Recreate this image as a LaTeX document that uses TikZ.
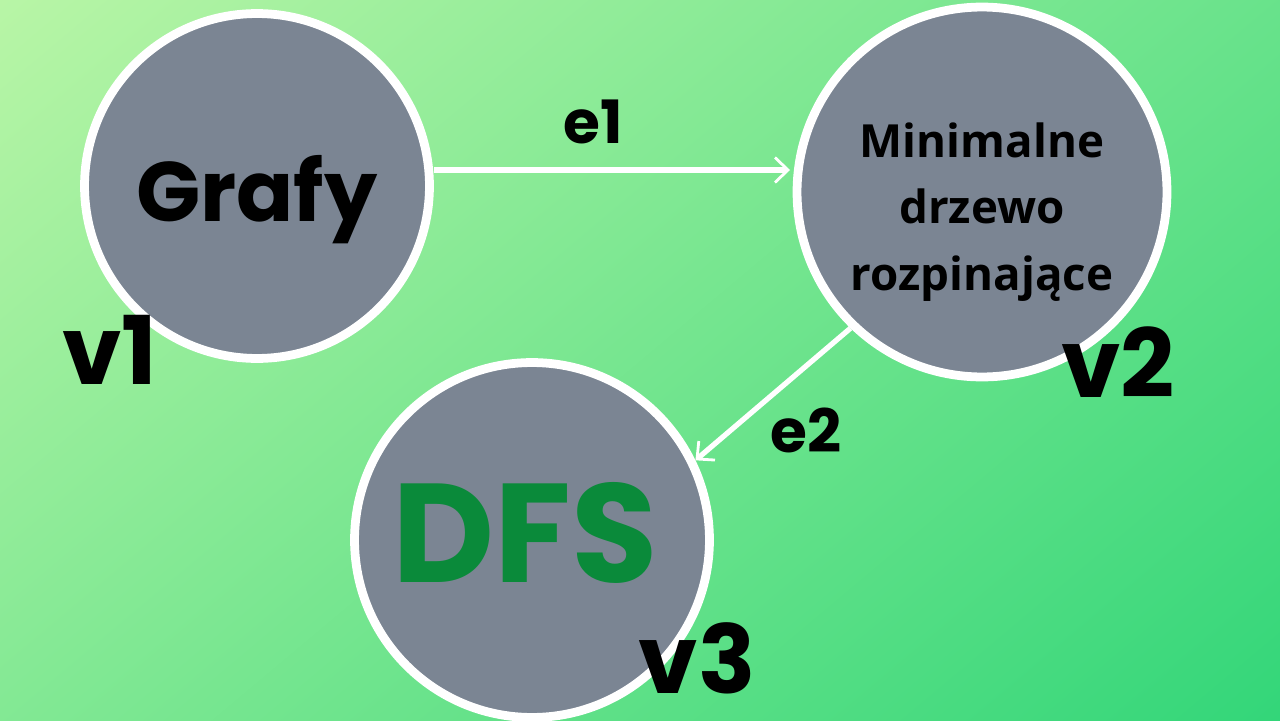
\documentclass[tikz,border=0pt]{standalone}
\usepackage{fontspec}
\setmainfont{Poppins}
\newfontfamily\treeFont{Open Sans}
\usetikzlibrary{arrows.meta}
\definecolor{bgLight}{HTML}{B8F5A6}
\definecolor{bgDark}{HTML}{33D679}
\definecolor{nodeGray}{HTML}{7B8593}
\definecolor{dfsGreen}{HTML}{0A8A3A}
\tikzset{%
  >={Straight Barb[width=5mm,length=2.6mm,line width=1.6pt]},
  % Specifications for style of nodes:
      vertex/.style = {circle, draw=white, line width=5pt, fill=nodeGray,
                       inner sep=0pt},
    vtxLabel/.style = {font=\fontsize{54}{54}\selectfont\bfseries},
   edgeLabel/.style = {font=\fontsize{34}{34}\selectfont\bfseries},
    edgeLine/.style = {draw=white, line width=3pt, ->},
}
\begin{document}
\begin{tikzpicture}[x=0.02cm, y=-0.02cm]
  \useasboundingbox (0,0) rectangle (1280,720);
  \shade[top color=bgLight, bottom color=bgDark, shading angle=40]
    (-200,-200) rectangle (1480,920);
  % Specification of nodes (position, etc.)
  \node (grafy) [vertex, minimum size=6.9cm] at (257,186) {};
  \node (mst)   [vertex, minimum size=7.4cm] at (982,192) {};
  \node (dfs)   [vertex, minimum size=7.1cm] at (532,540) {};
  \node at (257,200) {\fontsize{48}{48}\selectfont\bfseries Grafy};
  \node [align=center, font=\treeFont\bfseries\fontsize{26}{38}\selectfont]
    at (982,212) {Minimalne\\drzewo\\rozpinające};
  \node [text=dfsGreen] at (525,533) {\fontsize{80}{80}\selectfont\bfseries DFS};
  \node [vtxLabel] at (110,350) {v1};
  \node [vtxLabel] at (1118,362) {v2};
  \node [vtxLabel] at (697,658) {v3};
  \node (e1) [edgeLabel] at (593,122) {e1};
  \node (e2) [edgeLabel] at (806,430) {e2};
  \draw[edgeLine] (grafy.east |- 0,170) -- (790,170);
  \draw[edgeLine] (mst.-134) -- (dfs.26);
\end{tikzpicture}
\end{document}
